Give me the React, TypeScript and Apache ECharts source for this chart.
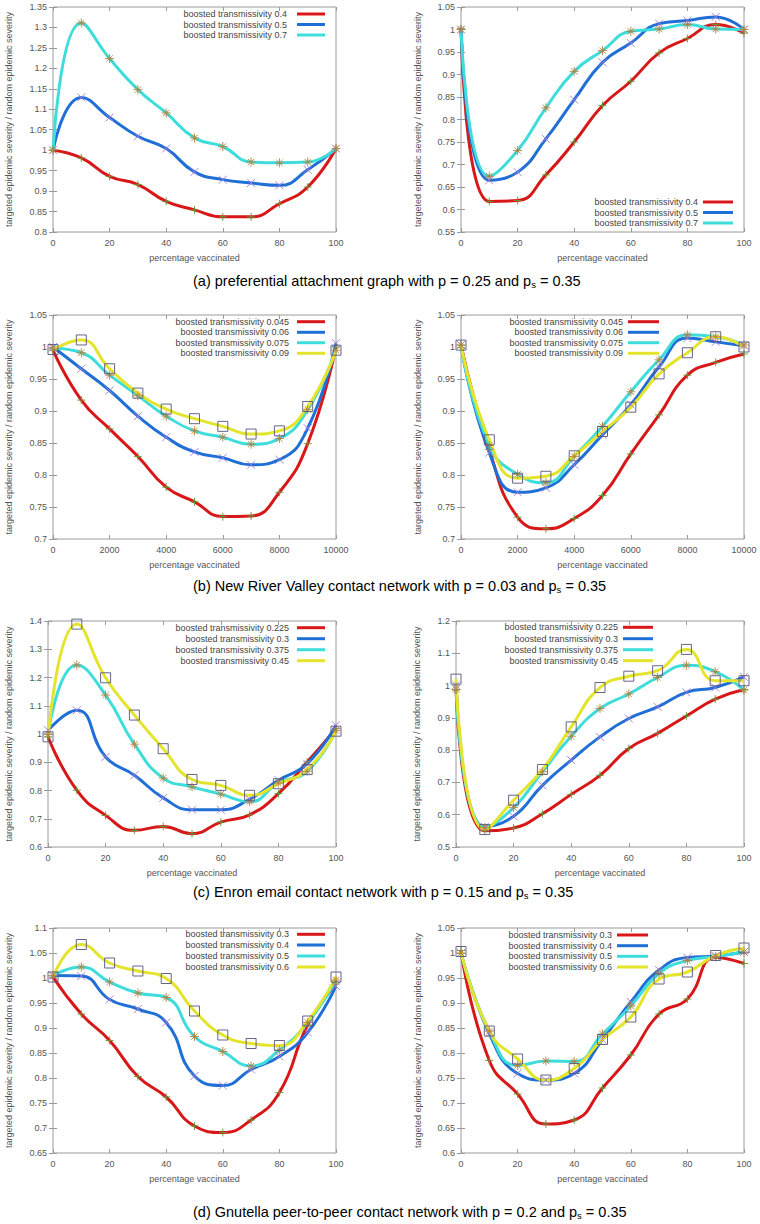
import React, { useEffect, useRef } from "react";
import * as echarts from "echarts";

// ---------- data ----------
const pctX = [0, 10, 20, 30, 40, 50, 60, 70, 80, 90, 100];
const nrvX = [0, 1000, 2000, 3000, 4000, 5000, 6000, 7000, 8000, 9000, 10000];

const aNames = ["boosted transmissivity 0.4", "boosted transmissivity 0.5", "boosted transmissivity 0.7"];
const aL_r = [1.0, 0.981, 0.936, 0.916, 0.875, 0.854, 0.837, 0.837, 0.869, 0.91, 1.004];
const aL_b = [1.0, 1.129, 1.08, 1.034, 1.004, 0.947, 0.928, 0.92, 0.914, 0.952, 1.004];
const aL_c = [1.0, 1.311, 1.224, 1.148, 1.091, 1.03, 1.009, 0.971, 0.969, 0.971, 1.004];
const aR_r = [1.002, 0.618, 0.62, 0.677, 0.75, 0.831, 0.885, 0.948, 0.98, 1.011, 0.992];
const aR_b = [1.0, 0.665, 0.683, 0.757, 0.844, 0.927, 0.97, 1.013, 1.02, 1.028, 1.0];
const aR_c = [1.0, 0.674, 0.731, 0.826, 0.907, 0.953, 0.996, 1.001, 1.011, 1.001, 1.0];

const bNames = ["boosted transmissivity 0.045", "boosted transmissivity 0.06", "boosted transmissivity 0.075", "boosted transmissivity 0.09"];
const bL_r = [0.995, 0.917, 0.872, 0.829, 0.781, 0.758, 0.735, 0.736, 0.773, 0.849, 1.0];
const bL_b = [1.0, 0.966, 0.932, 0.892, 0.859, 0.836, 0.827, 0.816, 0.824, 0.873, 1.006];
const bL_c = [0.998, 0.991, 0.956, 0.924, 0.892, 0.869, 0.859, 0.848, 0.857, 0.902, 0.995];
const bL_y = [0.996, 1.011, 0.966, 0.928, 0.903, 0.888, 0.876, 0.864, 0.869, 0.907, 0.995];
const bR_r = [1.003, 0.84, 0.734, 0.716, 0.732, 0.768, 0.833, 0.894, 0.956, 0.976, 0.989];
const bR_b = [1.003, 0.835, 0.773, 0.78, 0.816, 0.863, 0.91, 0.969, 1.014, 1.008, 1.002];
const bR_c = [1.003, 0.846, 0.801, 0.788, 0.829, 0.876, 0.93, 0.98, 1.019, 1.016, 1.003];
const bR_y = [1.003, 0.855, 0.795, 0.798, 0.83, 0.868, 0.906, 0.958, 0.991, 1.016, 1.0];

const cNames = ["boosted transmissivity 0.225", "boosted transmissivity 0.3", "boosted transmissivity 0.375", "boosted transmissivity 0.45"];
const cL_r = [0.99, 0.801, 0.712, 0.659, 0.673, 0.647, 0.688, 0.714, 0.789, 0.901, 1.019];
const cL_b = [1.013, 1.084, 0.919, 0.854, 0.774, 0.732, 0.732, 0.769, 0.836, 0.895, 1.031];
const cL_c = [0.999, 1.244, 1.138, 0.964, 0.844, 0.813, 0.787, 0.76, 0.827, 0.868, 1.013];
const cL_y = [0.99, 1.389, 1.199, 1.067, 0.948, 0.839, 0.818, 0.783, 0.824, 0.874, 1.01];
const cR_r = [0.986, 0.55, 0.559, 0.603, 0.663, 0.722, 0.805, 0.852, 0.906, 0.958, 0.988];
const cR_b = [1.001, 0.562, 0.595, 0.691, 0.769, 0.841, 0.898, 0.934, 0.979, 0.994, 1.027];
const cR_c = [0.988, 0.56, 0.622, 0.733, 0.843, 0.929, 0.974, 1.025, 1.063, 1.043, 0.986];
const cR_y = [1.02, 0.554, 0.645, 0.74, 0.872, 0.994, 1.029, 1.046, 1.112, 1.015, 1.015];

const dNames = ["boosted transmissivity 0.3", "boosted transmissivity 0.4", "boosted transmissivity 0.5", "boosted transmissivity 0.6"];
const dL_r = [1.002, 0.928, 0.875, 0.803, 0.762, 0.704, 0.691, 0.716, 0.771, 0.906, 0.988];
const dL_b = [1.005, 1.004, 0.957, 0.938, 0.911, 0.804, 0.785, 0.817, 0.843, 0.891, 0.984];
const dL_c = [1.005, 1.022, 0.992, 0.97, 0.961, 0.883, 0.853, 0.824, 0.856, 0.911, 0.996];
const dL_y = [1.002, 1.067, 1.03, 1.014, 0.999, 0.934, 0.886, 0.869, 0.865, 0.914, 1.002];
const dR_r = [1.005, 0.785, 0.718, 0.658, 0.666, 0.73, 0.796, 0.878, 0.908, 0.991, 0.979];
const dR_b = [1.0, 0.839, 0.759, 0.746, 0.759, 0.827, 0.902, 0.966, 0.991, 0.994, 1.002];
const dR_c = [1.0, 0.844, 0.775, 0.784, 0.783, 0.838, 0.894, 0.959, 0.985, 0.993, 1.002];
const dR_y = [1.003, 0.844, 0.788, 0.746, 0.769, 0.827, 0.872, 0.948, 0.962, 0.995, 1.01];

const captions = [
  ["(a) preferential attachment graph with p = 0.25 and p", " = 0.35"],
  ["(b) New River Valley contact network with p = 0.03 and p", " = 0.35"],
  ["(c) Enron email contact network with p = 0.15 and p", " = 0.35"],
  ["(d) Gnutella peer-to-peer contact network with p = 0.2 and p", " = 0.35"],
];

const xAxisName = "percentage vaccinated";
const yAxisName = "targeted epidemic severity / random epidemic severity";

// ---------- styling ----------
const FONT = "'Liberation Sans', Arial, sans-serif";
const lineColors = ["#d81818", "#1f6fd6", "#3fdcdc", "#e4e42c"];
const markColors = ["#5f9a34", "#a57ad8", "#b5823e", "#55557e"];
const markSymbols = [
  "path://M0,5H10M5,0V10",
  "path://M0,0L10,10M10,0L0,10",
  "path://M0,5H10M5,0V10M1.5,1.5L8.5,8.5M8.5,1.5L1.5,8.5",
  "path://M0,0H10V10H0Z",
];
const markSizes = [8, 8, 9, 10];

type Plot = {
  grid: [number, number, number, number];
  xs: number[];
  xMax: number;
  xInt: number;
  yMin: number;
  yMax: number;
  yInt: number;
  names: string[];
  ys: number[][];
  nameGap: number;
  legend: { tr: number; x1: number; x2: number; rows: number[] };
};

const plots: Plot[] = [
  { grid: [53, 7, 283, 225], xs: pctX, xMax: 100, xInt: 20, yMin: 0.8, yMax: 1.35, yInt: 0.05, names: aNames, ys: [aL_r, aL_b, aL_c], nameGap: 40,
    legend: { tr: 287, x1: 297, x2: 325, rows: [14, 24.5, 35] } },
  { grid: [461, 7, 283, 225], xs: pctX, xMax: 100, xInt: 20, yMin: 0.55, yMax: 1.05, yInt: 0.05, names: aNames, ys: [aR_r, aR_b, aR_c], nameGap: 39,
    legend: { tr: 698, x1: 703, x2: 733, rows: [202, 212.5, 223] } },
  { grid: [53, 315, 283, 224], xs: nrvX, xMax: 10000, xInt: 2000, yMin: 0.7, yMax: 1.05, yInt: 0.05, names: bNames, ys: [bL_r, bL_b, bL_c, bL_y], nameGap: 40,
    legend: { tr: 289, x1: 297, x2: 325, rows: [321.7, 332.3, 342.7, 353.3] } },
  { grid: [461, 315, 283, 224], xs: nrvX, xMax: 10000, xInt: 2000, yMin: 0.7, yMax: 1.05, yInt: 0.05, names: bNames, ys: [bR_r, bR_b, bR_c, bR_y], nameGap: 39,
    legend: { tr: 623, x1: 628, x2: 659, rows: [321.7, 332.3, 342.7, 353.3] } },
  { grid: [48, 621, 288, 226], xs: pctX, xMax: 100, xInt: 20, yMin: 0.6, yMax: 1.4, yInt: 0.1, names: cNames, ys: [cL_r, cL_b, cL_c, cL_y], nameGap: 35,
    legend: { tr: 289, x1: 297, x2: 325, rows: [627.7, 638.7, 649.7, 660.7] } },
  { grid: [456, 621, 288, 226], xs: pctX, xMax: 100, xInt: 20, yMin: 0.5, yMax: 1.2, yInt: 0.1, names: cNames, ys: [cR_r, cR_b, cR_c, cR_y], nameGap: 35,
    legend: { tr: 618, x1: 623, x2: 653, rows: [627.3, 638.7, 649.7, 660.7] } },
  { grid: [53, 928, 283, 225], xs: pctX, xMax: 100, xInt: 20, yMin: 0.65, yMax: 1.1, yInt: 0.05, names: dNames, ys: [dL_r, dL_b, dL_c, dL_y], nameGap: 40,
    legend: { tr: 289, x1: 297, x2: 325, rows: [934.3, 945, 956, 967] } },
  { grid: [461, 928, 283, 225], xs: pctX, xMax: 100, xInt: 20, yMin: 0.6, yMax: 1.05, yInt: 0.05, names: dNames, ys: [dR_r, dR_b, dR_c, dR_y], nameGap: 39,
    legend: { tr: 612, x1: 617, x2: 648, rows: [935, 945.7, 956.3, 967] } },
];

const captionPos = [{ x: 193, y: 281 }, { x: 193, y: 586 }, { x: 193, y: 892 }, { x: 193, y: 1212 }];

function buildOption() {
  const grids: any[] = [];
  const xAxes: any[] = [];
  const yAxes: any[] = [];
  const series: any[] = [];
  const graphics: any[] = [];
  const axisColor = "#9a9a9a";
  const labelColor = "#555";

  plots.forEach((p, i) => {
    grids.push({ left: p.grid[0], top: p.grid[1], width: p.grid[2], height: p.grid[3], show: true, borderColor: axisColor, borderWidth: 1, backgroundColor: "transparent" });
    const tick = { show: true, inside: true, length: 4, lineStyle: { color: axisColor } };
    xAxes.push({
      type: "value", gridIndex: i, min: 0, max: p.xMax, interval: p.xInt, position: "bottom",
      axisLine: { show: false }, axisTick: tick, splitLine: { show: false },
      axisLabel: { color: labelColor, fontSize: 9, fontFamily: FONT, margin: 6, formatter: (v: number) => String(v) },
      name: xAxisName, nameLocation: "middle", nameGap: 21,
      nameTextStyle: { color: labelColor, fontSize: 9, fontFamily: FONT },
    });
    xAxes.push({
      type: "value", gridIndex: i, min: 0, max: p.xMax, interval: p.xInt, position: "top",
      axisLine: { show: false }, axisTick: tick, splitLine: { show: false }, axisLabel: { show: false },
    });
    yAxes.push({
      type: "value", gridIndex: i, min: p.yMin, max: p.yMax, interval: p.yInt, position: "left",
      axisLine: { show: false }, axisTick: tick, splitLine: { show: false },
      axisLabel: { color: labelColor, fontSize: 9, fontFamily: FONT, margin: 6 },
      name: yAxisName, nameLocation: "middle", nameGap: p.nameGap,
      nameTextStyle: { color: labelColor, fontSize: 9, fontFamily: FONT },
    });
    yAxes.push({
      type: "value", gridIndex: i, min: p.yMin, max: p.yMax, interval: p.yInt, position: "right",
      axisLine: { show: false }, axisTick: tick, splitLine: { show: false }, axisLabel: { show: false },
    });

    p.ys.forEach((ys, k) => {
      const data = p.xs.map((x, j) => [x, ys[j]]);
      series.push({
        type: "line", name: p.names[k], xAxisIndex: 2 * i, yAxisIndex: 2 * i, data,
        smooth: 0.5, showSymbol: false, silent: true, z: 2,
        lineStyle: { color: lineColors[k], width: 3 }, itemStyle: { color: lineColors[k] },
      });
      series.push({
        type: "scatter", name: p.names[k] + " points", xAxisIndex: 2 * i, yAxisIndex: 2 * i, data,
        symbol: markSymbols[k], symbolSize: markSizes[k], silent: true, z: 3,
        itemStyle: { color: "transparent", borderColor: markColors[k], borderWidth: 1, opacity: 0.9 },
      });
    });

    p.legend.rows.forEach((ry, k) => {
      graphics.push({
        type: "text", x: p.legend.tr, y: ry, silent: true,
        style: { text: p.names[k], fill: "#444", fontSize: 9, fontFamily: FONT, textAlign: "right", verticalAlign: "middle" },
      });
      graphics.push({
        type: "line", silent: true,
        shape: { x1: p.legend.x1, y1: ry, x2: p.legend.x2, y2: ry },
        style: { stroke: lineColors[k], lineWidth: 3 },
      });
    });
  });

  captions.forEach((c, i) => {
    graphics.push({
      type: "text", x: captionPos[i].x, y: captionPos[i].y, silent: true,
      style: {
        text: `{t|${c[0]}}{s|s}{t|${c[1]}}`,
        verticalAlign: "middle",
        fill: "#000",
        fontSize: 14.5,
        fontFamily: FONT,
        rich: {
          t: { fontSize: 14.5, fontFamily: FONT, fill: "#000", lineHeight: 16 },
          s: { fontSize: 9.5, fontFamily: FONT, fill: "#000", verticalAlign: "bottom", lineHeight: 13 },
        },
      },
    });
  });

  return {
    animation: false,
    backgroundColor: "#ffffff",
    textStyle: { fontFamily: FONT },
    grid: grids,
    xAxis: xAxes,
    yAxis: yAxes,
    series,
    graphic: { elements: graphics },
  };
}

export default function App() {
  const ref = useRef<HTMLDivElement>(null);
  useEffect(() => {
    document.body.style.margin = "0";
    if (!ref.current) return;
    const chart = echarts.init(ref.current, undefined, { renderer: "svg" });
    chart.setOption(buildOption() as any);
    return () => chart.dispose();
  }, []);
  return <div ref={ref} style={{ width: 760, height: 1224 }} />;
}
